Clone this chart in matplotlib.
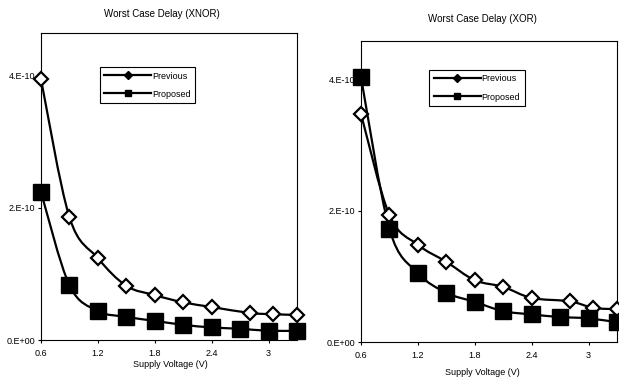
import matplotlib
matplotlib.use('Agg')
import matplotlib.pyplot as plt
from matplotlib.path import Path
from matplotlib.patches import PathPatch
from matplotlib.lines import Line2D

plt.rcParams['font.family'] = ['Liberation Sans', 'DejaVu Sans']

# supply voltage (V)
prev_v = [0.6, 0.9, 1.2, 1.5, 1.8, 2.1, 2.4, 2.8, 3.05, 3.3]
prop_v = [0.6, 0.9, 1.2, 1.5, 1.8, 2.1, 2.4, 2.7, 3.0, 3.3]

# worst case delay (s)
xnor_prev = [3.95e-10, 1.86e-10, 1.24e-10, 0.82e-10, 0.68e-10, 0.57e-10, 0.50e-10, 0.41e-10, 0.39e-10, 0.38e-10]
xnor_prop = [2.24e-10, 0.83e-10, 0.44e-10, 0.35e-10, 0.29e-10, 0.23e-10, 0.19e-10, 0.17e-10, 0.14e-10, 0.14e-10]
xor_prev = [3.47e-10, 1.93e-10, 1.48e-10, 1.22e-10, 0.94e-10, 0.84e-10, 0.67e-10, 0.62e-10, 0.52e-10, 0.50e-10]
xor_prop = [4.03e-10, 1.72e-10, 1.05e-10, 0.75e-10, 0.61e-10, 0.47e-10, 0.42e-10, 0.38e-10, 0.36e-10, 0.30e-10]

x_ticks = [0.6, 1.2, 1.8, 2.4, 3.0]
x_tick_labels = ['0.6', '1.2', '1.8', '2.4', '3']
y_ticks = [0, 2e-10, 4e-10]
y_tick_labels = ['0.E+00', '2.E-10', '4.E-10']


def smooth_line(ax, x, y):
    # excel-like smoothed line: catmull-rom as cubic bezier segments
    n = len(x)
    verts = [(x[0], y[0])]
    codes = [Path.MOVETO]
    for i in range(n - 1):
        a = max(i - 1, 0)
        b = min(i + 2, n - 1)
        c1 = (x[i] + (x[i + 1] - x[a]) / 6, y[i] + (y[i + 1] - y[a]) / 6)
        c2 = (x[i + 1] - (x[b] - x[i]) / 6, y[i + 1] - (y[b] - y[i]) / 6)
        verts += [c1, c2, (x[i + 1], y[i + 1])]
        codes += [Path.CURVE4] * 3
    ax.add_patch(PathPatch(Path(verts, codes), fill=False, ec='black', lw=1.6,
                           zorder=2, clip_on=False))


def draw_panel(ax, prev, prop, ytop, leg_xy):
    smooth_line(ax, prev_v, prev)
    smooth_line(ax, prop_v, prop)
    ax.plot(prev_v, prev, ls='none', marker='D', ms=7.5, mfc='white', mec='black',
            mew=1.6, zorder=3, clip_on=False)
    ax.plot(prop_v, prop, ls='none', marker='s', ms=11.5, mfc='black', mec='black',
            zorder=4, clip_on=False)
    ax.set_xlim(0.6, 3.3)
    ax.set_ylim(0, ytop)
    ax.set_xticks(x_ticks)
    ax.set_xticklabels(x_tick_labels)
    ax.set_yticks(y_ticks)
    ax.set_yticklabels(y_tick_labels)
    ax.tick_params(axis='both', labelsize=6.5, length=2.5, width=0.8, direction='out')
    ax.tick_params(axis='x', pad=4)
    ax.tick_params(axis='y', pad=1.5)
    for s in ax.spines.values():
        s.set_linewidth(0.8)
        s.set_color('black')
    handles = [Line2D([], [], color='black', lw=1.6, marker='D', ms=4.5, mfc='black'),
               Line2D([], [], color='black', lw=1.6, marker='s', ms=5, mfc='black')]
    leg = ax.legend(handles, ['Previous', 'Proposed'], loc='upper left',
                    bbox_to_anchor=leg_xy, borderaxespad=0, fontsize=6.5,
                    handlelength=5.2, handletextpad=0.1, labelspacing=1.0,
                    borderpad=0.5, fancybox=False, framealpha=1)
    leg.get_frame().set_edgecolor('black')
    leg.get_frame().set_linewidth(0.8)


fig = plt.figure(figsize=(6.19, 3.79), dpi=100)
ax1 = fig.add_axes([0.0662, 0.1029, 0.4136, 0.810])
ax2 = fig.add_axes([0.5832, 0.0976, 0.4136, 0.794])

draw_panel(ax1, xnor_prev, xnor_prop, 4.65e-10, (0.23, 0.889))
draw_panel(ax2, xor_prev, xor_prop, 4.58e-10, (0.266, 0.904))

fig.text(0.2617, 0.963, 'Worst Case Delay (XNOR)', ha='center', va='center', fontsize=7)
fig.text(0.7787, 0.950, 'Worst Case Delay (XOR)', ha='center', va='center', fontsize=7)
fig.text(0.2746, 0.037, 'Supply Voltage (V)', ha='center', va='center', fontsize=6.5)
fig.text(0.7787, 0.016, 'Supply Voltage (V)', ha='center', va='center', fontsize=6.5)

fig.savefig('out.png', dpi=100)
